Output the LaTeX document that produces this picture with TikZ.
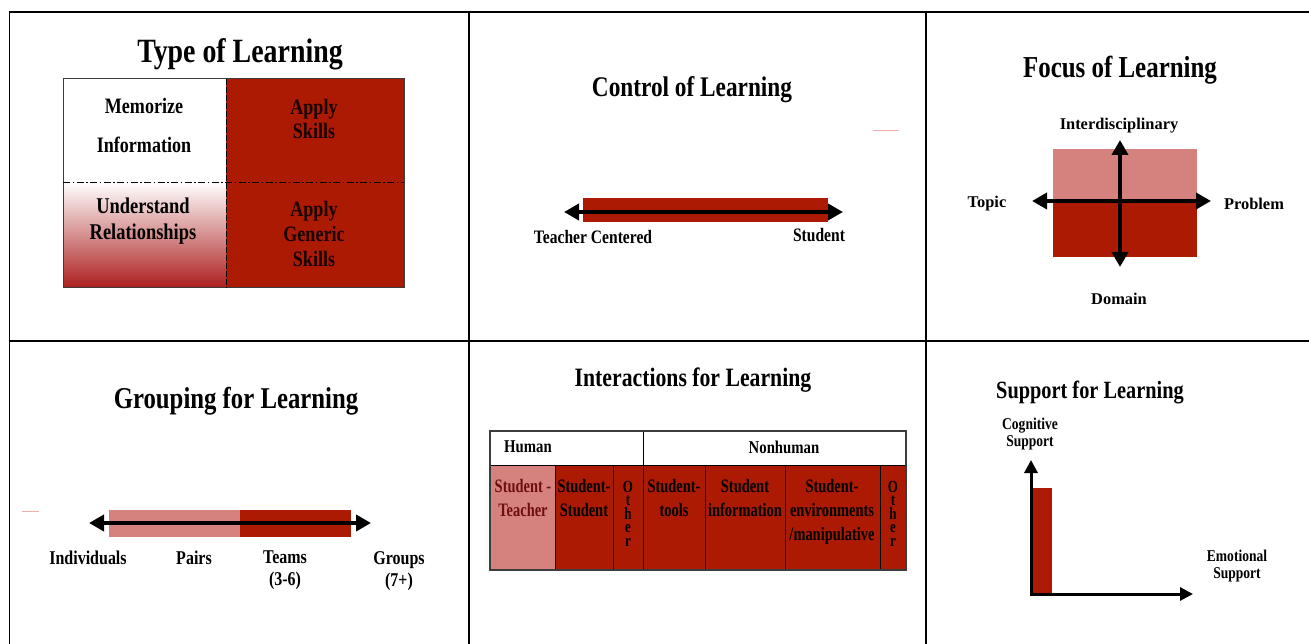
\documentclass[tikz,border=0pt]{standalone}
\usepackage{fontspec}
\setmainfont{Liberation Serif}
\newfontfamily\nf[FakeStretch=0.82]{Liberation Serif}
\newfontfamily\cf[FakeStretch=0.76]{Liberation Serif}
\usetikzlibrary{arrows.meta}
\definecolor{myred}{RGB}{172,26,4}
\definecolor{mypink}{RGB}{213,130,126}
\definecolor{gradred}{RGB}{172,30,30}
\definecolor{boxgray}{RGB}{60,60,60}
\definecolor{straypink}{RGB}{240,175,175}
\definecolor{darkredtext}{RGB}{110,14,14}
\newcommand\myfs[2]{\fontsize{#1}{#2}\selectfont}
\tikzset{
  lbl/.style={inner sep=0pt, align=center},
  gridline/.style={line width=2.4pt},
  colline/.style={line width=1.3pt},
  bigaxis/.style={line width=4pt, {Triangle[length=15pt,width=16pt]}-{Triangle[length=15pt,width=16pt]}},
  smallaxis/.style={line width=3pt, {Triangle[length=13pt,width=13pt]}-{Triangle[length=13pt,width=13pt]}},
  cellline/.style={line width=0.9pt, draw=black},
}
\begin{document}
\begin{tikzpicture}[x=1pt,y=-1pt]
\useasboundingbox (0,0) rectangle (1309,644);
\fill[white] (0,0) rectangle (1309,644);
% ---------------- grid
\draw[gridline] (8.5,12) -- (1309,12);
\draw[gridline] (8.5,341) -- (1309,341);
\draw[colline] (9.5,11) -- (9.5,644);
\draw[colline] (469,11) -- (469,644);
\draw[colline] (926,11) -- (926,644);
% ---------------- Panel 1: Type of Learning
\node[lbl, font=\bfseries\nf\myfs{34}{36}] (t1) at (240,54) {Type of Learning};
\fill[myred] (226,79) rectangle (404,288);
\shade[top color=white, bottom color=gradred] (63,182) rectangle (226,288);
\draw[boxgray, line width=1pt] (63,79) rectangle (404,288);
\draw[black, line width=0.8pt, dash pattern=on 7pt off 2.5pt on 1.5pt off 2.5pt] (63,182) -- (404,182);
\draw[black, line width=0.8pt, dash pattern=on 6pt off 2pt] (226,79) -- (226,288);
\node[lbl, font=\bfseries\nf\myfs{22}{39}] (mem) at (144,125) {Memorize\\Information};
\node[lbl, font=\bfseries\nf\myfs{22}{24}, text=black!90!red] (aps) at (314,119) {Apply\\Skills};
\node[lbl, font=\bfseries\nf\myfs{22.5}{26}] (und) at (143,221) {Understand\\Relationships};
\node[lbl, font=\bfseries\nf\myfs{22}{25}, text=black!90!red] (apg) at (314,234) {Apply\\Generic\\Skills};
% ---------------- Panel 2: Control of Learning
\node[lbl, font=\bfseries\nf\myfs{28.4}{30}] (t2) at (692,90) {Control of Learning};
\fill[myred] (583,198) rectangle (828,222);
\coordinate (c2l) at (564,212);
\coordinate (c2r) at (843,212);
\draw[bigaxis] (c2l) -- (c2r);
\node[lbl, font=\bfseries\nf\myfs{19}{20}] (tc) at (593,237) {Teacher Centered};
\node[lbl, font=\bfseries\nf\myfs{19}{20}] (st) at (819,235) {Student};
\coordinate (s1a) at (873,131); \coordinate (s1b) at (899,131);
\draw[straypink, line width=1pt] (s1a) -- (s1b);
% ---------------- Panel 3: Focus of Learning
\node[lbl, font=\bfseries\nf\myfs{30.4}{32}] (t3) at (1120,70) {Focus of Learning};
\fill[mypink] (1053,149) rectangle (1197,201);
\fill[myred] (1053,201) rectangle (1197,257);
\coordinate (fl) at (1032,201); \coordinate (fr) at (1211,201);
\coordinate (ft) at (1120,140); \coordinate (fb) at (1120,267);
\draw[bigaxis] (fl) -- (fr);
\draw[bigaxis] (fb) -- (ft);
\node[lbl, font=\bfseries\myfs{16.4}{18}] (inter) at (1119,126) {Interdisciplinary};
\node[lbl, font=\bfseries\myfs{16.4}{18}] (topic) at (987,204) {Topic};
\node[lbl, font=\bfseries\myfs{16.4}{18}] (prob) at (1254,204) {Problem};
\node[lbl, font=\bfseries\myfs{16.4}{18}] (dom) at (1119,299) {Domain};
% ---------------- Panel 4: Grouping for Learning
\node[lbl, font=\bfseries\nf\myfs{30.2}{32}] (t4) at (236,401) {Grouping for Learning};
\fill[mypink] (109,510) rectangle (240,537);
\fill[myred] (240,510) rectangle (351,537);
\coordinate (gl) at (89,523); \coordinate (gr) at (371,523);
\draw[bigaxis] (gl) -- (gr);
\node[lbl, font=\bfseries\nf\myfs{19.5}{22}] (ind) at (88,558) {Individuals};
\node[lbl, font=\bfseries\nf\myfs{19.5}{22}] (pairs) at (194,558) {Pairs};
\node[lbl, font=\bfseries\nf\myfs{19.5}{22}, anchor=north] (teams) at (285,551) {Teams\\(3-6)};
\node[lbl, font=\bfseries\nf\myfs{19.5}{22}, anchor=north] (groups) at (399,551) {Groups\\(7+)};
\coordinate (s2a) at (22,511); \coordinate (s2b) at (39,511);
\draw[straypink, line width=1pt] (s2a) -- (s2b);
% ---------------- Panel 5: Interactions for Learning
\node[lbl, font=\bfseries\nf\myfs{26.5}{30}] (t5) at (693,380) {Interactions for Learning};
\fill[white] (490,431) rectangle (906,465);
\fill[mypink] (490,465) rectangle (555,570);
\fill[myred] (555,465) rectangle (906,570);
\draw[cellline] (490,465) -- (906,465);
\draw[cellline] (643,431) -- (643,570);
\foreach \xx in {555,613,705,785,880} { \draw[cellline] (\xx,465) -- (\xx,570); }
\draw[boxgray, line width=1.1pt] (490,431) rectangle (906,570);
\node[lbl, font=\bfseries\nf\myfs{18}{20}] (hum) at (528,447) {Human};
\node[lbl, font=\bfseries\nf\myfs{18}{20}] (nonhum) at (784,447) {Nonhuman};
\tikzset{cell/.style={lbl, anchor=north, font=\bfseries\cf\myfs{19}{24}}}
\node[cell, text=darkredtext] (c1) at (523,479) {Student -\\Teacher};
\node[cell] (c2) at (584,479) {Student-\\Student};
\node[cell, font=\bfseries\cf\myfs{17}{13.5}] (c3) at (628,481) {O\\t\\h\\e\\r};
\node[cell] (c4) at (674,479) {Student-\\tools};
\node[cell] (c5) at (745,479) {Student\\information};
\node[cell] (c6) at (832,479) {Student-\\environments\\/manipulative};
\node[cell, font=\bfseries\cf\myfs{17}{13.5}] (c7) at (893,481) {O\\t\\h\\e\\r};
% ---------------- Panel 6: Support for Learning
\node[lbl, font=\bfseries\nf\myfs{24.8}{26}] (t6) at (1090,393) {Support for Learning};
\fill[myred] (1032,488) rectangle (1052,594);
\coordinate (sy) at (1031,460); \coordinate (so) at (1031,594); \coordinate (sx) at (1193,594);
\draw[smallaxis, line join=miter] (sy) -- (so) -- (sx);
\node[lbl, font=\bfseries\nf\myfs{16.5}{17}] (cog) at (1030,434) {Cognitive\\Support};
\node[lbl, font=\bfseries\nf\myfs{16.5}{17}] (emo) at (1237,566) {Emotional\\Support};
\end{tikzpicture}
\end{document}
